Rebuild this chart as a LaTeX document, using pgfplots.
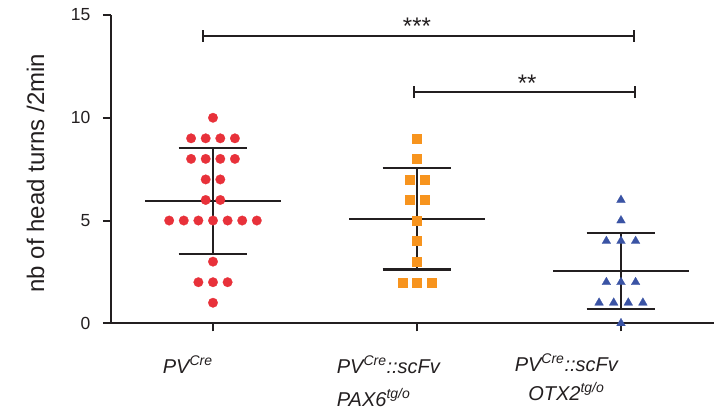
\documentclass[border=0pt]{standalone}
\usepackage{pgfplots}
\pgfplotsset{compat=1.18}
\usepackage{fontspec}
\setmainfont{Liberation Sans}
\definecolor{cred}{RGB}{232,49,58}
\definecolor{corange}{RGB}{247,148,30}
\definecolor{cblue}{RGB}{58,83,164}
\definecolor{cline}{RGB}{35,31,32}
\begin{document}
\begin{tikzpicture}
\path[use as bounding box] (-111pt,-92.7pt) rectangle (603pt,323.3pt);
\begin{axis}[
  scale only axis, width=603pt, height=308.3pt,
  xmin=-0.5, xmax=2.456, ymin=0, ymax=15,
  axis x line*=bottom, axis y line*=left,
  axis line style={line width=2pt, color=cline, -},
  clip=false,
  xtick={0,1,2}, xticklabels={,,}, ytick={0,5,10,15},
  tick align=outside, major tick length=8pt,
  tick style={line width=2pt, color=cline},
  yticklabel style={font=\fontsize{17.5}{20}\selectfont, color=cline, xshift=-9pt},
  /pgf/number format/assume math mode=true,
  meanline/.style={color=cline, line width=2.2pt, no marks, forget plot},
]
% data points
\addplot[only marks, color=cred, mark=*, mark size=4.8pt, mark options={draw=cred, fill=cred, line width=0.2pt}] coordinates {
(0,10)
(-0.1074,9) (-0.0358,9) (0.0358,9) (0.1074,9)
(-0.1074,8) (-0.0358,8) (0.0358,8) (0.1074,8)
(-0.0358,7) (0.0358,7)
(-0.0358,6) (0.0358,6)
(-0.2148,5) (-0.1432,5) (-0.0716,5) (0,5) (0.0716,5) (0.1432,5) (0.2148,5)
(0,3)
(-0.0716,2) (0,2) (0.0716,2)
(0,1)
};
\addplot[only marks, color=corange, mark=square*, mark size=4.5pt, mark options={draw=corange, fill=corange, line width=0.2pt}] coordinates {
(1,9) (1,8) (0.9642,7) (1.0358,7) (0.9642,6) (1.0358,6) (1,5) (1,4) (1,3) (0.9284,2) (1,2) (1.0716,2)
};
\addplot[only marks, color=cblue, mark=triangle*, mark size=5.1pt, mark options={draw=cblue, fill=cblue, line width=0.2pt}] coordinates {
(2,6) (2,5) (1.9284,4) (2,4) (2.0716,4) (1.9284,2) (2,2) (2.0716,2) (1.8926,1) (1.9642,1) (2.0358,1) (2.1074,1) (2,0)
};
% mean and SD lines
\addplot[meanline] coordinates {(-0.332,5.96) (0.332,5.96)};
\addplot[meanline] coordinates {(0,3.387) (0,8.533)};
\addplot[meanline] coordinates {(-0.169,8.533) (0.169,8.533)};
\addplot[meanline] coordinates {(-0.169,3.387) (0.169,3.387)};
\addplot[meanline] coordinates {(0.668,5.083) (1.332,5.083)};
\addplot[meanline] coordinates {(1,2.617) (1,7.549)};
\addplot[meanline] coordinates {(0.831,7.549) (1.169,7.549)};
\addplot[meanline] coordinates {(0.831,2.617) (1.169,2.617)};
\addplot[meanline] coordinates {(1.668,2.538) (2.332,2.538)};
\addplot[meanline] coordinates {(2,0.685) (2,4.391)};
\addplot[meanline] coordinates {(1.831,4.391) (2.169,4.391)};
\addplot[meanline] coordinates {(1.831,0.685) (2.169,0.685)};
% significance bars
\addplot[meanline, line width=2pt] coordinates {(-0.049,14) (2.062,14)};
\addplot[meanline, line width=2pt] coordinates {(-0.049,13.71) (-0.049,14.29)};
\addplot[meanline, line width=2pt] coordinates {(2.062,13.71) (2.062,14.29)};
\addplot[meanline, line width=2pt] coordinates {(0.985,11.25) (2.067,11.25)};
\addplot[meanline, line width=2pt] coordinates {(0.985,10.96) (0.985,11.54)};
\addplot[meanline, line width=2pt] coordinates {(2.067,10.96) (2.067,11.54)};
\node[anchor=base, font=\fontsize{24}{24}\selectfont, text=cline] at (axis cs:1,14.05) {***};
\node[anchor=base, font=\fontsize{24}{24}\selectfont, text=cline] at (axis cs:1.54,11.3) {**};
% category labels
\node[anchor=base west, yshift=-50pt, font=\fontsize{20}{20}\selectfont\itshape, text=cline] at (axis cs:-0.263,0) {PV\textsuperscript{Cre}};
\node[anchor=base west, yshift=-50pt, font=\fontsize{20}{20}\selectfont\itshape, text=cline] at (axis cs:0.59,0) {PV\textsuperscript{Cre}::scFv};
\node[anchor=base west, yshift=-82.7pt, font=\fontsize{20}{20}\selectfont\itshape, text=cline] at (axis cs:0.59,0) {PAX6\textsuperscript{tg/o}};
\node[anchor=base, yshift=-48pt, font=\fontsize{20}{20}\selectfont\itshape, text=cline] at (axis cs:1.732,0) {PV\textsuperscript{Cre}::scFv};
\node[anchor=base, yshift=-77pt, font=\fontsize{20}{20}\selectfont\itshape, text=cline] at (axis cs:1.732,0) {OTX2\textsuperscript{tg/o}};
% y label
\node[rotate=90, anchor=base, font=\fontsize{24}{24}\selectfont, text=cline] at (axis cs:-0.828,7.31) {nb of head turns /2min};
\end{axis}
\end{tikzpicture}
\end{document}
